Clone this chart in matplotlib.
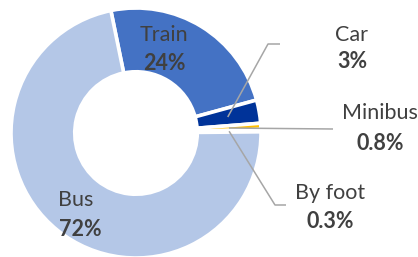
import numpy as np
import matplotlib
matplotlib.use("Agg")
import matplotlib.pyplot as plt

plt.rcParams['font.family'] = ['Lato', 'DejaVu Sans']

# data, clockwise from the top
modes = ["Train", "Car", "Minibus", "By foot", "Bus"]
shares = [24, 3, 0.8, 0.3, 72]
pct_labels = ["24%", "3%", "0.8%", "0.3%", "72%"]
colors = ["#4472C4", "#003399", "#FFC000", "#A5A5A5", "#B4C7E7"]

W, H = 418, 257
fig = plt.figure(figsize=(W / 100, H / 100), dpi=100)
ax = fig.add_axes([0, 0, 1, 1])

cx, cy = 136, H - 133
R = 125
ring = 0.51
start = 101.6

wedges, _ = ax.pie(shares, colors=colors, startangle=start, counterclock=False,
                   radius=R, center=(cx, cy), frame=True,
                   wedgeprops=dict(width=R * ring, edgecolor="white", linewidth=2.6))
ax.set_xlim(0, W)
ax.set_ylim(0, H)
ax.set_aspect("equal")
ax.axis("off")

txt = "#404040"
line_c = "#A6A6A6"
fs = 15.5
r_mid = R * (1 - ring / 2)


def mid_point(w):
    a = np.deg2rad((w.theta1 + w.theta2) / 2)
    return cx + r_mid * np.cos(a), cy + r_mid * np.sin(a)


# inside labels
ax.text(164, H - 35, modes[0], ha="center", va="center", fontsize=fs, color=txt)
ax.text(164, H - 63, pct_labels[0], ha="center", va="center", fontsize=fs,
        color=txt, fontweight="bold")
ax.text(76, H - 200, modes[4], ha="center", va="center", fontsize=fs, color=txt)
ax.text(80, H - 229, pct_labels[4], ha="center", va="center", fontsize=fs,
        color=txt, fontweight="bold")

# outside labels with leader lines
outs = [
    (1, [(268, 44), (280, 44)], (352, 35), (352, 61)),
    (2, [(333, 129)], (380, 113), (380, 143)),
    (3, [(275, 205), (286, 205)], (330, 193), (330, 222)),
]
for i, pts, lab_pos, pct_pos in outs:
    x0, y0 = mid_point(wedges[i])
    xs = [x0] + [p[0] for p in pts]
    ys = [y0] + [H - p[1] for p in pts]
    ax.plot(xs, ys, color=line_c, lw=1.1, solid_capstyle="butt")
    ax.text(lab_pos[0], H - lab_pos[1], modes[i], ha="center", va="center",
            fontsize=fs, color=txt)
    ax.text(pct_pos[0], H - pct_pos[1], pct_labels[i], ha="center", va="center",
            fontsize=fs, color=txt, fontweight="bold")

fig.savefig("out.png", dpi=100)
